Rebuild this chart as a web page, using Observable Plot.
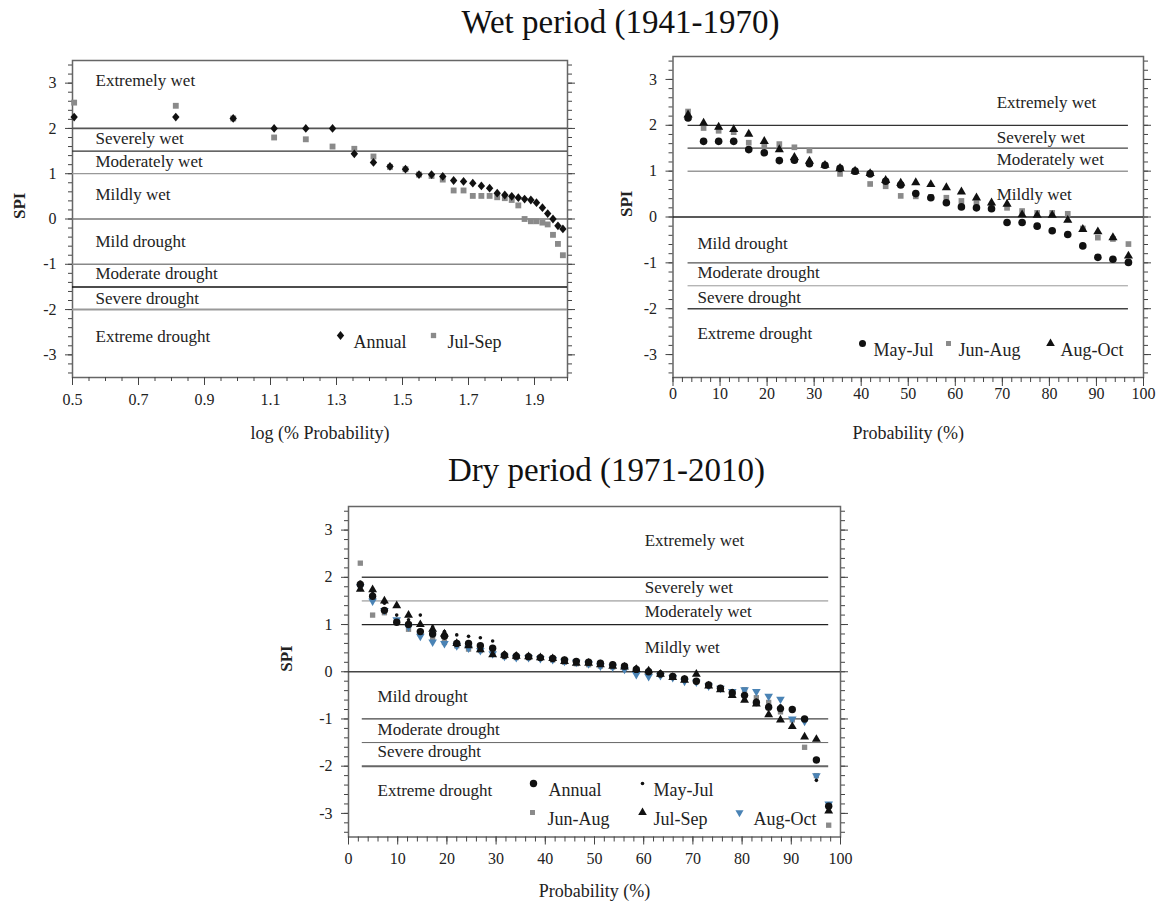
<!DOCTYPE html>
<html><head><meta charset="utf-8">
<script src="https://cdn.jsdelivr.net/npm/d3@7"></script>
<script src="https://cdn.jsdelivr.net/npm/@observablehq/plot@0.6"></script>
<style>
body{margin:0;background:#fff;}
#page{position:relative;width:1161px;height:909px;font-family:'Liberation Serif','Times New Roman',serif;color:#111;background:#fff;overflow:hidden;}
.title{position:absolute;left:0;width:1161px;text-align:center;font-size:33px;line-height:38px;}
.panel{position:absolute;}
.panel svg{overflow:visible;}
.panel svg, .panel svg text{font-family:'Liberation Serif','Times New Roman',serif !important;}
</style></head><body><div id="page">
<div class="title" style="left:40px;top:3px">Wet period (1941-1970)</div>
<div class="title" style="left:26px;top:451px">Dry period (1971-2010)</div>
<div id="p1" class="panel" style="left:0;top:40px"></div>
<div id="p2" class="panel" style="left:580px;top:36px"></div>
<div id="p3" class="panel" style="left:250px;top:486px"></div>
</div>
<script>
// ---------- data ----------
const spiLevels = [2, 1.5, 1, 0, -1, -1.5, -2];
const catNames = ["Extremely wet","Severely wet","Moderately wet","Mildly wet","Mild drought","Moderate drought","Severe drought","Extreme drought"];
const yTickLabels = [-3, -2, -1, 0, 1, 2, 3];
const xTicksLog = [0.5, 0.7, 0.9, 1.1, 1.3, 1.5, 1.7, 1.9];
const xTicksProb = [0, 10, 20, 30, 40, 50, 60, 70, 80, 90, 100];

// Wet period (1941-1970), 30 ranked years
const logProbWet = [0.505,0.813,0.987,1.111,1.207,1.288,1.354,1.412,1.462,1.509,1.550,1.588,1.622,1.655,1.685,1.713,1.739,1.764,1.787,1.810,1.831,1.851,1.870,1.889,1.906,1.924,1.940,1.956,1.971,1.986];
const wetAnnual = [2.25,2.25,2.22,2.0,2.0,2.0,1.44,1.25,1.16,1.10,0.98,0.98,0.94,0.85,0.83,0.79,0.73,0.68,0.57,0.53,0.50,0.47,0.44,0.42,0.36,0.25,0.12,0.0,-0.15,-0.22];
const wetJulSep = [2.57,2.5,2.22,1.8,1.76,1.6,1.55,1.38,1.15,1.10,0.98,0.95,0.87,0.63,0.63,0.51,0.51,0.51,0.48,0.46,0.42,0.30,0.0,-0.05,-0.05,-0.08,-0.12,-0.35,-0.55,-0.8];

const probWet = [3.2,6.5,9.7,12.9,16.1,19.4,22.6,25.8,29.0,32.3,35.5,38.7,41.9,45.2,48.4,51.6,54.8,58.1,61.3,64.5,67.7,71.0,74.2,77.4,80.6,83.9,87.1,90.3,93.5,96.8];
const wetMayJul = [2.16,1.65,1.65,1.65,1.47,1.40,1.23,1.24,1.16,1.13,1.06,1.0,0.94,0.78,0.70,0.51,0.42,0.31,0.22,0.20,0.18,-0.12,-0.12,-0.20,-0.30,-0.38,-0.63,-0.88,-0.92,-0.99];
const wetJunAug = [2.3,1.94,1.88,1.85,1.62,1.55,1.59,1.52,1.45,1.12,0.94,0.98,0.72,0.67,0.46,0.45,0.44,0.42,0.35,0.30,0.22,0.20,0.13,0.09,0.09,0.07,-0.25,-0.45,-0.48,-0.59];
const wetAugOct = [2.23,2.05,1.96,1.91,1.81,1.65,1.47,1.30,1.22,1.13,1.06,1.0,0.95,0.80,0.74,0.75,0.71,0.64,0.55,0.42,0.31,0.28,0.05,0.04,0.04,-0.07,-0.27,-0.32,-0.45,-0.85];

// Dry period (1971-2010), 40 ranked years
const probDry = [2.4,4.9,7.3,9.8,12.2,14.6,17.1,19.5,22.0,24.4,26.8,29.3,31.7,34.1,36.6,39.0,41.5,43.9,46.3,48.8,51.2,53.7,56.1,58.5,61.0,63.4,65.9,68.3,70.7,73.2,75.6,78.0,80.5,82.9,85.4,87.8,90.2,92.7,95.1,97.6];
const dryAnnual = [1.85,1.6,1.3,1.05,1.0,0.85,0.8,0.75,0.6,0.6,0.55,0.5,0.35,0.33,0.32,0.3,0.28,0.25,0.22,0.2,0.18,0.15,0.12,0.05,0.0,-0.05,-0.1,-0.15,-0.2,-0.28,-0.35,-0.45,-0.5,-0.65,-0.75,-0.78,-0.8,-1.0,-1.87,-2.85];
const dryMayJul = [1.9,1.7,1.45,1.2,1.1,1.2,0.95,0.85,0.78,0.75,0.72,0.65,0.4,0.38,0.35,0.32,0.3,0.28,0.25,0.22,0.2,0.18,0.15,0.1,0.05,0.0,-0.08,-0.12,-0.18,-0.25,-0.32,-0.4,-0.48,-0.6,-0.7,-0.72,-0.78,-1.0,-2.3,-2.9];
const dryJunAug = [2.3,1.2,1.25,1.05,0.9,0.8,0.7,0.62,0.55,0.48,0.45,0.4,0.32,0.3,0.3,0.3,0.25,0.2,0.17,0.15,0.12,0.1,0.08,0.02,-0.02,-0.05,-0.1,-0.15,-0.2,-0.28,-0.35,-0.45,-0.38,-0.55,-0.65,-0.85,-1.02,-1.6,-2.2,-3.25];
const dryJulSep = [1.75,1.74,1.5,1.4,1.2,1.0,0.9,0.8,0.6,0.55,0.47,0.36,0.35,0.33,0.32,0.3,0.28,0.22,0.18,0.18,0.15,0.12,0.1,0.05,0.02,-0.05,-0.12,-0.18,-0.05,-0.3,-0.38,-0.5,-0.6,-0.68,-0.91,-1.02,-1.16,-1.38,-1.43,-2.95];
const dryAugOct = [1.8,1.5,1.3,1.1,0.95,0.75,0.63,0.6,0.55,0.5,0.45,0.38,0.33,0.3,0.3,0.28,0.26,0.22,0.2,0.17,0.12,0.1,0.05,-0.06,-0.1,-0.08,-0.12,-0.2,-0.22,-0.3,-0.35,-0.42,-0.38,-0.42,-0.52,-0.58,-1.0,-1.05,-2.2,-2.8];

// ---------- helpers ----------
const BLACK = "#111", GRAY = "#8a8a8a", BLUE = "#4a83b5";
const FONT = "'Liberation Serif', 'Times New Roman', serif";
const CAT_FS = 17;
const pts = (xs, ys) => xs.map((x, i) => ({x, y: ys[i]}));
const yMinor = d3.range(-3.4, 3.45, 0.2).map(v => +v.toFixed(1));
const fmtInt = d => (d < 0 ? "-" + Math.abs(d) : String(d));
// slightly tall rhombus, like the reference markers
const rhombus = {draw(ctx, size) {
  const s = Math.sqrt(size), h = s * 0.62, w = s * 0.52;
  ctx.moveTo(0, -h); ctx.lineTo(w, 0); ctx.lineTo(0, h); ctx.lineTo(-w, 0); ctx.closePath();
}};

function yAxes() {
  return [
    Plot.axisY({ticks: yMinor, tickSize: 4, tickFormat: () => "", label: null, stroke: "#444"}),
    Plot.axisY({ticks: yTickLabels, tickSize: 7, tickPadding: 9, tickFormat: fmtInt, fontSize: 16, label: null, stroke: "#444", fill: "#222"}),
    Plot.axisY({anchor: "right", ticks: yMinor, tickSize: 4, tickFormat: () => "", label: null, stroke: "#444"}),
    Plot.axisY({anchor: "right", ticks: yTickLabels, tickSize: 7, tickFormat: () => "", label: null, stroke: "#444"})
  ];
}
function legend(items, fontSize) {
  const marks = [];
  for (const it of items) {
    marks.push(Plot.dot([0], {frameAnchor: "top-left", dx: it.mx, dy: it.my, symbol: it.symbol, r: it.r, fill: it.fill, rotate: it.rotate || 0}));
    marks.push(Plot.text([it.label], {frameAnchor: "top-left", dx: it.tx, dy: it.my, textAnchor: "start", fontSize, fill: "#222", fontFamily: FONT}));
  }
  return marks;
}
function levelRules(styles, x1, x2) {
  return spiLevels.map((lv, i) => Plot.ruleY([lv], {
    x1: lv === 0 ? undefined : x1, x2: lv === 0 ? undefined : x2,
    stroke: styles[i][0], strokeWidth: styles[i][1]
  }));
}
const baseStyle = {background: "transparent", fontFamily: FONT, fontSize: "16px", color: "#222"};

// ---------- Panel 1: wet period, log probability ----------
const p1 = Plot.plot({
  width: 600, height: 407, marginLeft: 72, marginRight: 33, marginTop: 20, marginBottom: 70,
  style: baseStyle,
  x: {domain: [0.5, 2.0], axis: null},
  y: {domain: [-3.5, 3.5], axis: null},
  marks: [
    Plot.frame({stroke: "#666", strokeWidth: 1.5}),
    ...levelRules([["#555",1.8],["#333",1.3],["#999",1.2],["#777",1.5],["#888",1.5],["#111",1.6],["#999",2]]),
    Plot.axisX({ticks: d3.range(0.5, 2.001, 0.05).map(v => +v.toFixed(2)), tickSize: 4, tickFormat: () => "", label: null, stroke: "#444"}),
    Plot.axisX({ticks: xTicksLog, tickSize: 8, tickPadding: 8, tickFormat: d => d.toFixed(1), fontSize: 16, label: null, stroke: "#444", fill: "#222"}),
    ...yAxes(),
    Plot.text(["log (% Probability)"], {frameAnchor: "bottom", dy: 61, fontSize: 18, fill: "#222", fontFamily: FONT}),
    Plot.text(["SPI"], {frameAnchor: "left", dx: -53, rotate: -90, fontSize: 17, fontWeight: "bold", fill: "#222", fontFamily: FONT}),
    Plot.text(catNames, {y: [3.05, 1.77, 1.27, 0.53, -0.49, -1.2, -1.76, -2.6], frameAnchor: "left", dx: 23, textAnchor: "start", fontSize: CAT_FS, fill: "#222", fontFamily: FONT}),
    Plot.dot(pts(logProbWet, wetJulSep), {x: "x", y: "y", symbol: "square", r: 3.3, fill: GRAY}),
    Plot.dot(pts(logProbWet, wetAnnual), {x: "x", y: "y", symbol: rhombus, r: 4, fill: BLACK}),
    ...legend([
      {symbol: rhombus, r: 4, fill: BLACK, mx: 268, my: 275, tx: 281, label: "Annual"},
      {symbol: "square", r: 3.0, fill: GRAY, mx: 361, my: 275, tx: 375, label: "Jul-Sep"}
    ], 18)
  ]
});
document.getElementById("p1").append(p1);

// ---------- Panel 2: wet period, probability ----------
const p2 = Plot.plot({
  width: 580, height: 411, marginLeft: 92.5, marginRight: 17, marginTop: 20, marginBottom: 70,
  style: baseStyle,
  x: {domain: [0, 100], axis: null},
  y: {domain: [-3.5, 3.5], axis: null},
  marks: [
    Plot.frame({stroke: "#666", strokeWidth: 1.5}),
    ...levelRules([["#333",1.3],["#444",1.3],["#999",1.5],["#222",1.4],["#555",1.3],["#999",1],["#444",1.5]], probWet[0], probWet[probWet.length - 1]),
    Plot.axisX({ticks: d3.range(0, 101, 2), tickSize: 5, tickFormat: () => "", label: null, stroke: "#444"}),
    Plot.axisX({ticks: xTicksProb, tickSize: 9, tickPadding: 1, fontSize: 16, label: null, stroke: "#444", fill: "#222"}),
    ...yAxes(),
    Plot.text(["Probability (%)"], {frameAnchor: "bottom", dy: 61, fontSize: 18, fill: "#222", fontFamily: FONT}),
    Plot.text(["SPI"], {frameAnchor: "left", dx: -46, rotate: -90, fontSize: 17, fontWeight: "bold", fill: "#222", fontFamily: FONT}),
    Plot.text(catNames, {x: [68.8, 68.8, 68.8, 68.8, 5.2, 5.2, 5.2, 5.2], y: [2.5, 1.74, 1.26, 0.5, -0.57, -1.22, -1.76, -2.54], textAnchor: "start", fontSize: CAT_FS, fill: "#222", fontFamily: FONT}),
    Plot.dot(pts(probWet, wetJunAug), {x: "x", y: "y", symbol: "square", r: 3.2, fill: GRAY}),
    Plot.dot(pts(probWet, wetAugOct), {x: "x", y: "y", symbol: "triangle", r: 3.4, fill: BLACK}),
    Plot.dot(pts(probWet, wetMayJul), {x: "x", y: "y", symbol: "circle", r: 3.8, fill: BLACK}),
    ...legend([
      {symbol: "circle", r: 3.5, fill: BLACK, mx: 189.5, my: 287, tx: 200.5, label: "May-Jul"},
      {symbol: "square", r: 2.8, fill: GRAY, mx: 275.5, my: 287, tx: 285.5, label: "Jun-Aug"},
      {symbol: "triangle", r: 3.2, fill: BLACK, mx: 377.5, my: 287, tx: 387.5, label: "Aug-Oct"}
    ], 18)
  ]
});
document.getElementById("p2").append(p2);

// ---------- Panel 3: dry period, probability ----------
const p3 = Plot.plot({
  width: 640, height: 420.5, marginLeft: 98, marginRight: 50, marginTop: 20, marginBottom: 70,
  style: baseStyle,
  x: {domain: [0, 100], axis: null},
  y: {domain: [-3.5, 3.5], axis: null},
  marks: [
    Plot.frame({stroke: "#666", strokeWidth: 1.5}),
    ...levelRules([["#444",1.5],["#888",1],["#222",1.3],["#444",1.5],["#444",1.3],["#666",1],["#666",2]], 2.8, probDry[probDry.length - 1]),
    Plot.axisX({ticks: d3.range(0, 101, 2), tickSize: 5, tickFormat: () => "", label: null, stroke: "#444"}),
    Plot.axisX({ticks: xTicksProb, tickSize: 8, tickPadding: 8, fontSize: 16, label: null, stroke: "#444", fill: "#222"}),
    ...yAxes(),
    Plot.text(["Probability (%)"], {frameAnchor: "bottom", dy: 60, fontSize: 18, fill: "#222", fontFamily: FONT}),
    Plot.text(["SPI"], {frameAnchor: "left", dx: -62, rotate: -90, fontSize: 17, fontWeight: "bold", fill: "#222", fontFamily: FONT}),
    Plot.text(catNames, {x: [60.2, 60.2, 60.2, 60.2, 5.9, 5.9, 5.9, 5.9], y: [2.77, 1.79, 1.28, 0.51, -0.53, -1.23, -1.7, -2.51], textAnchor: "start", fontSize: CAT_FS, fill: "#222", fontFamily: FONT}),
    Plot.dot(pts(probDry, dryJunAug), {x: "x", y: "y", symbol: "square", r: 3.0, fill: GRAY}),
    Plot.dot(pts(probDry, dryAugOct), {x: "x", y: "y", symbol: "triangle", r: 3.2, fill: BLUE, rotate: 180}),
    Plot.dot(pts(probDry, dryJulSep), {x: "x", y: "y", symbol: "triangle", r: 3.3, fill: BLACK}),
    Plot.dot(pts(probDry, dryAnnual), {x: "x", y: "y", symbol: "circle", r: 3.7, fill: BLACK}),
    Plot.dot(pts(probDry, dryMayJul), {x: "x", y: "y", symbol: "circle", r: 1.8, fill: BLACK}),
    ...legend([
      {symbol: "circle", r: 3.7, fill: BLACK, mx: 185, my: 277, tx: 200, label: "Annual"},
      {symbol: "circle", r: 1.8, fill: BLACK, mx: 294, my: 277, tx: 305, label: "May-Jul"},
      {symbol: "square", r: 2.8, fill: GRAY, mx: 184, my: 306, tx: 199, label: "Jun-Aug"},
      {symbol: "triangle", r: 3.2, fill: BLACK, mx: 294, my: 306, tx: 305, label: "Jul-Sep"},
      {symbol: "triangle", r: 3.0, fill: BLUE, rotate: 180, mx: 391, my: 306, tx: 405, label: "Aug-Oct"}
    ], 18)
  ]
});
document.getElementById("p3").append(p3);
</script>
</body></html>
